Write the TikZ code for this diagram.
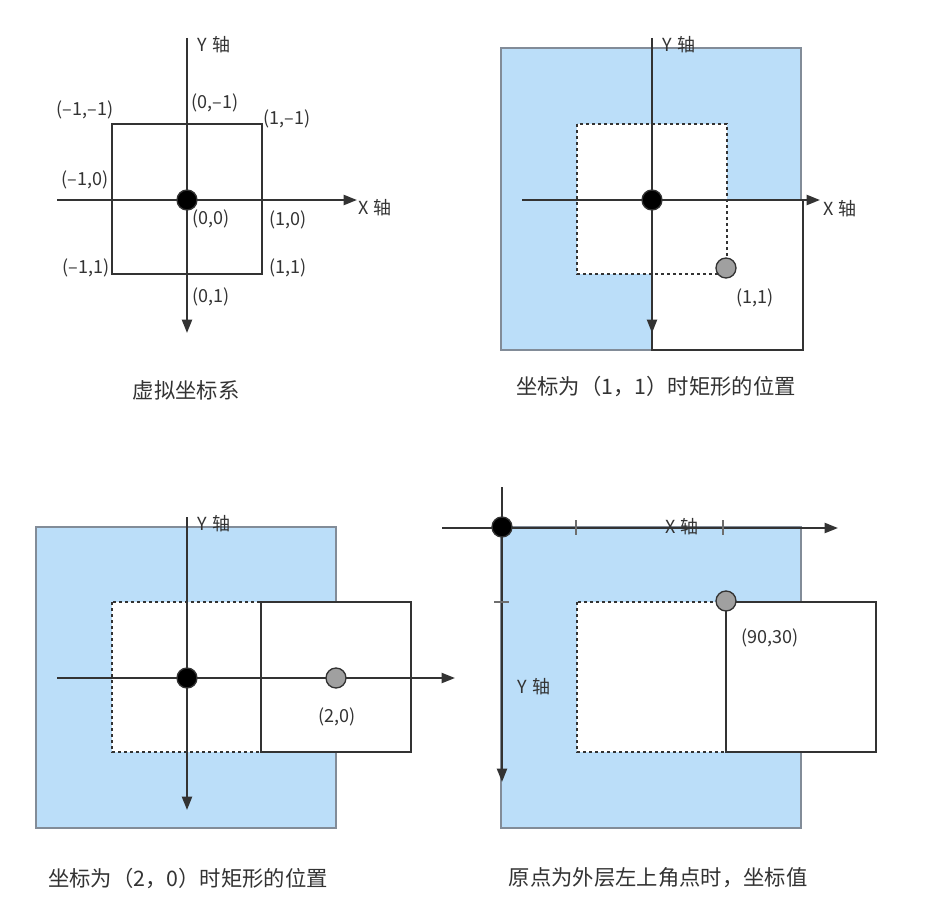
\documentclass[tikz,border=0pt]{standalone}
\usepackage{fontspec}
\setmainfont{Noto Sans CJK SC}
\usetikzlibrary{arrows.meta}
\definecolor{bluefill}{RGB}{187,222,249}
\definecolor{blueedge}{RGB}{130,140,152}
\definecolor{axiscol}{RGB}{51,51,51}
\definecolor{dotgray}{RGB}{160,160,160}
\definecolor{tickcol}{RGB}{110,110,110}
\newcommand{\axlab}[1]{#1\hspace{0.3em}轴}
\begin{document}
\begin{tikzpicture}[x=0.75pt,y=-0.75pt,
  axis/.style={draw=axiscol, line width=1.5pt, -{Triangle[length=10pt,width=7.5pt]}},
  outer/.style={fill=bluefill, draw=blueedge, line width=1pt},
  dotbox/.style={fill=white, draw=axiscol, line width=1.5pt, dash pattern=on 2.5pt off 2pt},
  solidbox/.style={fill=white, draw=axiscol, line width=1.5pt},
  framebox/.style={draw=axiscol, line width=1.5pt},
  tickmark/.style={draw=tickcol, line width=0.8pt},
  origin/.style={circle, fill=black, draw=axiscol, line width=1pt, minimum size=15pt, inner sep=0pt},
  target/.style={circle, fill=dotgray, draw=axiscol, line width=1pt, minimum size=15pt, inner sep=0pt},
  lbl/.style={font=\fontsize{13.5}{15}\selectfont, text=axiscol, inner sep=0pt},
  captext/.style={font=\fontsize{16}{18}\selectfont, text=axiscol, inner sep=0pt}]
\useasboundingbox[fill=white] (0,0) rectangle (927,917);

% ---------------- Panel 1 ----------------
\coordinate (p1yt) at (187,38);
\coordinate (p1yb) at (187,333);
\coordinate (p1xl) at (57,200);
\coordinate (p1xr) at (357,200);
\draw[framebox] (112,124) rectangle (262,274);
\draw[axis] (p1yt) -- (p1yb);
\draw[axis] (p1xl) -- (p1xr);
\node[origin] (p1o) at (187,200) {};
\node[lbl, anchor=west] (p1ylab) at (197,45) {\axlab{Y}};
\node[lbl, anchor=west] (p1xlab) at (358,208) {\axlab{X}};
\node[lbl] (l1) at (85,110) {(–1,–1)};
\node[lbl] (l2) at (215,103) {(0,–1)};
\node[lbl] (l3) at (287,119) {(1,–1)};
\node[lbl] (l4) at (85,180) {(–1,0)};
\node[lbl] (l5) at (211,219) {(0,0)};
\node[lbl] (l6) at (288,220) {(1,0)};
\node[lbl] (l7) at (86,268) {(–1,1)};
\node[lbl] (l8) at (288,268) {(1,1)};
\node[lbl] (l9) at (211,297) {(0,1)};
\node[captext] (c1) at (186,390) {虚拟坐标系};

% ---------------- Panel 2 ----------------
\draw[outer] (501,48) rectangle (801,350);
\draw[solidbox] (652,200) rectangle (803,350);
\draw[dotbox] (577,124) rectangle (727,274);
\coordinate (p2yt) at (652,38);
\coordinate (p2yb) at (652,333);
\coordinate (p2xl) at (522,200);
\coordinate (p2xr) at (820,200);
\draw[axis] (p2yt) -- (p2yb);
\draw[axis] (p2xl) -- (p2xr);
\node[origin] (p2o) at (652,200) {};
\node[target] (p2t) at (726,268) {};
\node[lbl, anchor=west] (p2ylab) at (662,45) {\axlab{Y}};
\node[lbl, anchor=west] (p2xlab) at (823,209) {\axlab{X}};
\node[lbl] (p2l) at (755,298) {(1,1)};
\node[captext] (c2) at (656,387) {坐标为（1，1）时矩形的位置};

% ---------------- Panel 3 ----------------
\draw[outer] (36,527) rectangle (336,828);
\draw[dotbox] (112,602) rectangle (261,752);
\draw[solidbox] (261,602) rectangle (411,752);
\coordinate (p3yt) at (187,517);
\coordinate (p3yb) at (187,810);
\coordinate (p3xl) at (57,678);
\coordinate (p3xr) at (455,678);
\draw[axis] (p3yt) -- (p3yb);
\draw[axis] (p3xl) -- (p3xr);
\node[origin] (p3o) at (187,678) {};
\node[target] (p3t) at (336,678) {};
\node[lbl, anchor=west] (p3ylab) at (197,524) {\axlab{Y}};
\node[lbl] (p3l) at (337,717) {(2,0)};
\node[captext] (c3) at (188,878) {坐标为（2，0）时矩形的位置};

% ---------------- Panel 4 ----------------
\draw[outer] (501,527) rectangle (801,828);
\draw[dotbox] (577,602) rectangle (726,752);
\draw[solidbox] (726,602) rectangle (876,752);
\coordinate (p4yt) at (502,487);
\coordinate (p4yb) at (502,782);
\coordinate (p4xl) at (442,528);
\coordinate (p4xr) at (838,528);
\coordinate (t1a) at (576,520); \coordinate (t1b) at (576,535);
\coordinate (t2a) at (723,520); \coordinate (t2b) at (723,535);
\coordinate (t3a) at (494,602); \coordinate (t3b) at (509,602);
\draw[axis] (p4yt) -- (p4yb);
\draw[axis] (p4xl) -- (p4xr);
\draw[tickmark] (t1a) -- (t1b);
\draw[tickmark] (t2a) -- (t2b);
\draw[tickmark] (t3a) -- (t3b);
\node[origin] (p4o) at (502,527) {};
\node[target] (p4t) at (726,601) {};
\node[lbl] (p4xlab) at (682,527) {\axlab{X}};
\node[lbl] (p4ylab) at (534,687) {\axlab{Y}};
\node[lbl] (p4l) at (770,638) {(90,30)};
\node[captext] (c4) at (658,878) {原点为外层左上角点时，坐标值};
\end{tikzpicture}
\end{document}
